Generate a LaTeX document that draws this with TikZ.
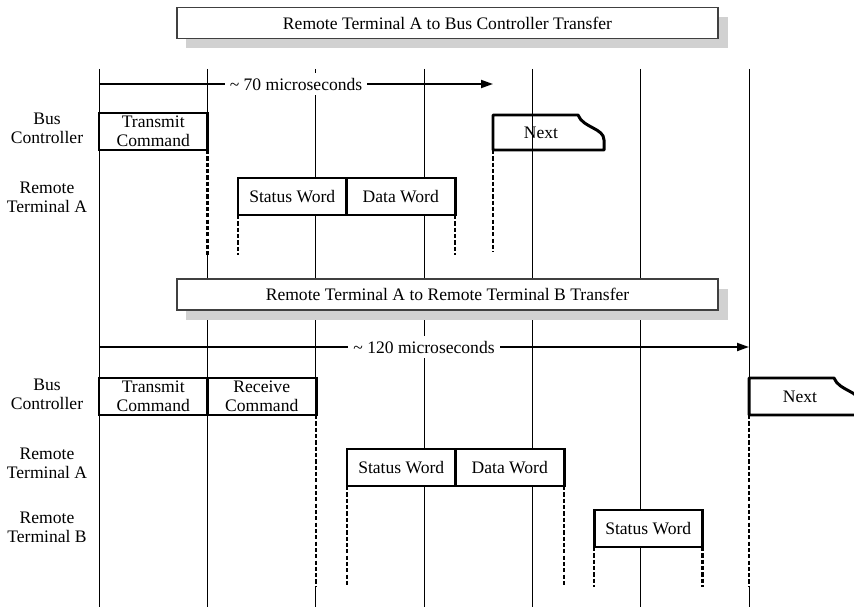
\documentclass[tikz,border=0pt]{standalone}
\usepackage{fontspec}
\setmainfont{Liberation Serif}
\usetikzlibrary{arrows.meta, positioning, shadows}

\begin{document}
\begin{tikzpicture}[
    x=0.2mm, y=-0.2mm,
    font=\fontsize{10}{10.8}\selectfont,
    tick/.style={line width=0.5pt},
    gap/.style={line width=1.6pt, dash pattern=on 2.4pt off 1.2pt},
    slot/.style={draw, line width=1.7pt, fill=white, minimum width=21.7mm, minimum height=7.4mm, inner sep=0pt, outer sep=0pt, align=center},
    nextbox/.style={line width=1.7pt, line join=round},
    span/.style={-{Triangle[length=2.4mm, width=1.6mm]}, line width=1.1pt},
    spanlbl/.style={fill=white, inner sep=1mm},
    lane/.style={align=center, inner sep=0pt},
    banner/.style={draw=black!75, line width=0.6pt, fill=white, minimum width=108.2mm, minimum height=6.2mm, inner sep=0pt,
        drop shadow={shadow xshift=1.9mm, shadow yshift=-1.9mm, fill=black!18, opacity=1}},
]
\clip (0,0) rectangle (854,610);
% ============================================================
% time grid (thin ticks, broken where a dashed gap runs)
% ============================================================
\foreach \x in {99, 424, 532.3, 640.7} {
    \draw[tick] (\x,69) -- (\x,607);
}
\draw[tick] (207.3,69) -- (207.3,113) (207.3,255) -- (207.3,607);
\draw[tick] (315.7,69) -- (315.7,378) (315.7,587) -- (315.7,607);
\draw[tick] (749,69) -- (749,378) (749,587) -- (749,607);
% ============================================================
% RT A -> BC transfer
% ============================================================
\node[banner] (ttl1) at (447.5,23) {Remote Terminal A to Bus Controller Transfer};
\coordinate (t1s) at (99,84);
\coordinate (t1e) at (493,84);
\draw[span] (t1s) -- node[spanlbl] (len1) {\textasciitilde{} 70 microseconds} (t1e);
% --- lanes ---
\node[lane] (bc1) at (47,128) {Bus\\Controller};
\node[lane] (rta1) at (47,197) {Remote\\Terminal A};
% --- words ---
\node[slot, anchor=north west] (tc1) at (99,113) {Transmit\\Command};
\node[slot, anchor=north west] (sw1) at (238,178) {Status Word};
\node[slot, right=0pt of sw1] (dw1) {Data Word};
\coordinate (nx1) at (493,150);
\draw[nextbox] (nx1) -- (493,115) -- (578,115) .. controls (583,128) and (604,128) .. (604,140) -- (604,150) -- cycle;
\node (nxt1) at (541,133) {Next};
% --- response gaps ---
\draw[gap] (tc1.south east) -- ++(0,105);
\draw[gap] (sw1.south west) -- ++(0,40);
\draw[gap] (dw1.south east) -- ++(0,40);
\draw[gap] (nx1) -- ++(0,102);
% ============================================================
% RT A -> RT B transfer
% ============================================================
\node[banner] (ttl2) at (447.5,294.5) {Remote Terminal A to Remote Terminal B Transfer};
\coordinate (t2s) at (99,347);
\coordinate (t2e) at (749,347);
\draw[span] (t2s) -- node[spanlbl] (len2) {\textasciitilde{} 120 microseconds} (t2e);
% --- lanes ---
\node[lane] (bc2) at (47,394) {Bus\\Controller};
\node[lane] (rta2) at (47,463) {Remote\\Terminal A};
\node[lane] (rtb2) at (47,527) {Remote\\Terminal B};
% --- words ---
\node[slot, anchor=north west] (tc2) at (99,378) {Transmit\\Command};
\node[slot, right=0pt of tc2] (rc2) {Receive\\Command};
\node[slot, anchor=north west] (sw2) at (347,449) {Status Word};
\node[slot, right=0pt of sw2] (dw2) {Data Word};
\node[slot, anchor=north west] (swb) at (594,510) {Status Word};
\coordinate (nx2) at (749,415);
\draw[nextbox] (nx2) -- (749,378) -- (834,378) .. controls (839,391) and (860,391) .. (860,403) -- (860,415) -- cycle;
\node (nxt2) at (800,397) {Next};
% --- response gaps ---
\draw[gap] (rc2.south east) -- ++(0,172);
\draw[gap] (sw2.south west) -- ++(0,100);
\draw[gap] (dw2.south east) -- ++(0,100);
\draw[gap] (swb.south west) -- ++(0,40);
\draw[gap] (swb.south east) -- ++(0,40);
\draw[gap] (nx2) -- ++(0,172);
\end{tikzpicture}
\end{document}
